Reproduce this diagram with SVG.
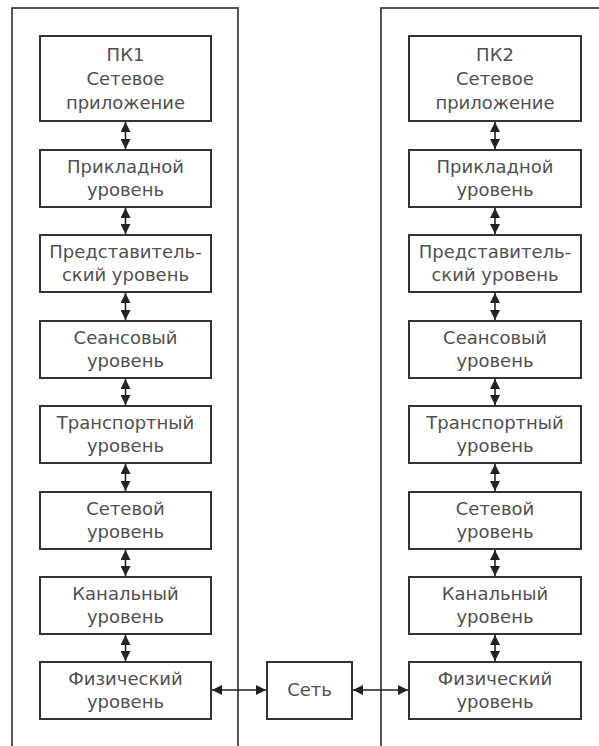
<svg xmlns="http://www.w3.org/2000/svg" width="599" height="746" viewBox="0 0 599 746">
<defs>
<marker id="ah" viewBox="0 0 10 10" refX="10" refY="5" markerWidth="10" markerHeight="10" markerUnits="userSpaceOnUse" orient="auto-start-reverse">
<path d="M0,0 L10,5 L0,10 Z" fill="#222"/>
</marker>
<style>
.host{fill:none;stroke:#444;stroke-width:1.8}
.box{fill:#fff;stroke:#333;stroke-width:2}
.t{font-family:"DejaVu Sans",Verdana,sans-serif;font-size:18px;fill:#505050;text-anchor:middle}
.c{stroke:#222;stroke-width:1.6;fill:none;marker-start:url(#ah);marker-end:url(#ah)}
</style>
</defs>
<rect width="599" height="746" fill="#fff"/>
<!-- host frames -->
<rect class="host" x="12" y="8" width="226" height="740"/>
<rect class="host" x="381" y="8" width="220" height="740"/>

<!-- computer 1 stack -->
<g id="pc1-app"><rect class="box" x="40" y="36" width="171" height="85"/>
<text class="t" x="125.5" y="61">ПК1</text><text class="t" x="125.5" y="85">Сетевое</text><text class="t" x="125.5" y="109">приложение</text></g>
<g id="pc1-l7"><rect class="box" x="40" y="150" width="171" height="57"/>
<text class="t" x="125.5" y="173">Прикладной</text><text class="t" x="125.5" y="196">уровень</text></g>
<g id="pc1-l6"><rect class="box" x="40" y="235" width="171" height="57"/>
<text class="t" x="125.5" y="258">Представитель-</text><text class="t" x="125.5" y="281">ский уровень</text></g>
<g id="pc1-l5"><rect class="box" x="40" y="321" width="171" height="57"/>
<text class="t" x="125.5" y="344">Сеансовый</text><text class="t" x="125.5" y="367">уровень</text></g>
<g id="pc1-l4"><rect class="box" x="40" y="406" width="171" height="57"/>
<text class="t" x="125.5" y="429">Транспортный</text><text class="t" x="125.5" y="452">уровень</text></g>
<g id="pc1-l3"><rect class="box" x="40" y="492" width="171" height="57"/>
<text class="t" x="125.5" y="515">Сетевой</text><text class="t" x="125.5" y="538">уровень</text></g>
<g id="pc1-l2"><rect class="box" x="40" y="577" width="171" height="57"/>
<text class="t" x="125.5" y="600">Канальный</text><text class="t" x="125.5" y="623">уровень</text></g>
<g id="pc1-l1"><rect class="box" x="40" y="662" width="171" height="57"/>
<text class="t" x="125.5" y="685">Физический</text><text class="t" x="125.5" y="708">уровень</text></g>

<!-- network -->
<g id="net"><rect class="box" x="267" y="662" width="85" height="57"/>
<text class="t" x="309.5" y="696">Сеть</text></g>

<!-- computer 2 stack -->
<g id="pc2-app"><rect class="box" x="409" y="36" width="172" height="85"/>
<text class="t" x="495" y="61">ПК2</text><text class="t" x="495" y="85">Сетевое</text><text class="t" x="495" y="109">приложение</text></g>
<g id="pc2-l7"><rect class="box" x="409" y="150" width="172" height="57"/>
<text class="t" x="495" y="173">Прикладной</text><text class="t" x="495" y="196">уровень</text></g>
<g id="pc2-l6"><rect class="box" x="409" y="235" width="172" height="57"/>
<text class="t" x="495" y="258">Представитель-</text><text class="t" x="495" y="281">ский уровень</text></g>
<g id="pc2-l5"><rect class="box" x="409" y="321" width="172" height="57"/>
<text class="t" x="495" y="344">Сеансовый</text><text class="t" x="495" y="367">уровень</text></g>
<g id="pc2-l4"><rect class="box" x="409" y="406" width="172" height="57"/>
<text class="t" x="495" y="429">Транспортный</text><text class="t" x="495" y="452">уровень</text></g>
<g id="pc2-l3"><rect class="box" x="409" y="492" width="172" height="57"/>
<text class="t" x="495" y="515">Сетевой</text><text class="t" x="495" y="538">уровень</text></g>
<g id="pc2-l2"><rect class="box" x="409" y="577" width="172" height="57"/>
<text class="t" x="495" y="600">Канальный</text><text class="t" x="495" y="623">уровень</text></g>
<g id="pc2-l1"><rect class="box" x="409" y="662" width="172" height="57"/>
<text class="t" x="495" y="685">Физический</text><text class="t" x="495" y="708">уровень</text></g>

<!-- connectors -->
<g id="connectors">
<path class="c" d="M125.5,122 V149"/>
<path class="c" d="M125.5,208 V234"/>
<path class="c" d="M125.5,293 V320"/>
<path class="c" d="M125.5,379 V405"/>
<path class="c" d="M125.5,464 V491"/>
<path class="c" d="M125.5,550 V576"/>
<path class="c" d="M125.5,635 V661"/>
<path class="c" d="M495,122 V149"/>
<path class="c" d="M495,208 V234"/>
<path class="c" d="M495,293 V320"/>
<path class="c" d="M495,379 V405"/>
<path class="c" d="M495,464 V491"/>
<path class="c" d="M495,550 V576"/>
<path class="c" d="M495,635 V661"/>
<path class="c" d="M212,690 H266"/>
<path class="c" d="M353,690 H408"/>
</g>
</svg>
